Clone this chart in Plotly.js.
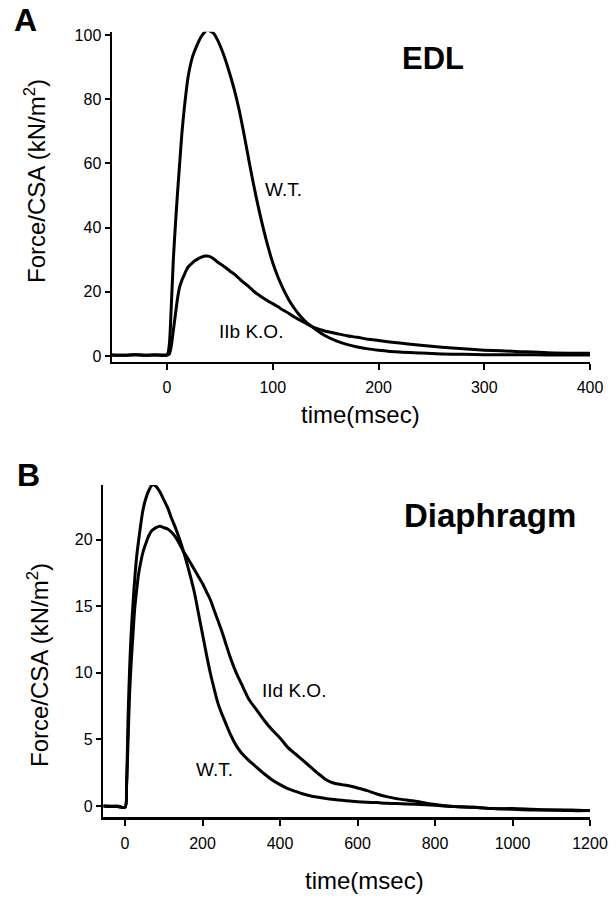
<!DOCTYPE html>
<html>
<head>
<meta charset="utf-8">
<script src="https://cdn.plot.ly/plotly-3.0.1.min.js"></script>
<style>html,body{margin:0;padding:0;background:#fff;}#chart{width:616px;height:899px;}</style>
</head>
<body>
<div id="chart"></div>
<script>
// ---- Panel A: EDL ----
var timeA = [-52,-40,-30,-20,-10,0,2,4,6,8,10,12,14,16,18,20,24,28,32,36,38,40,44,48,52,56,60,64,68,72,76,80,84,88,92,96,100,105,110,115,120,125,130,135,140,145,150,160,170,180,190,200,220,240,260,280,300,330,360,400];
var wtA = [0.3,0.2,0.4,0.2,0.3,0.3,3,15,30,41,51,60,69,76,82,87,93,96.5,99.3,101,101.5,101.3,100.5,98.3,95.2,91.5,87.2,82.5,77,70.5,63.5,56.5,50,44,38.5,33.5,29,24.5,20.8,17.6,15,12.8,11,9.6,8.4,7.2,6.2,4.7,3.6,2.8,2.2,1.8,1.2,0.9,0.6,0.5,0.4,0.4,0.3,0.3];
var koA = [0.3,0.2,0.4,0.2,0.3,0.3,0.5,3,8,13,18,21.5,23.5,25,26.5,27.7,29,30,30.7,31.1,31.1,31,30.3,29.2,28.3,27.4,26.3,25.4,24.2,23,22,20.8,19.6,18.7,17.8,17,16.3,15.3,14.2,13.3,12.2,11.3,10.4,9.5,8.7,8.2,7.7,7.0,6.3,5.8,5.2,4.8,4.0,3.3,2.7,2.2,1.8,1.4,1.0,0.8];
var ticksA_x = [0,100,200,300,400];
var ticksA_y = [0,20,40,60,80,100];

// ---- Panel B: Diaphragm ----
var timeB = [-56,-40,-20,0,4,8,12,16,20,25,30,35,40,45,50,55,60,65,70,75,80,90,100,110,120,130,140,150,160,170,180,190,200,210,220,230,240,250,260,270,280,290,300,320,340,360,380,400,420,440,460,480,500,520,540,560,580,600,625,650,675,700,750,800,850,900,950,1000,1050,1100,1150,1200];
var wtB = [0,-0.05,0,-0.1,1.7,6.7,10.4,13,14.9,17,18.7,19.9,21,22,22.7,23.2,23.6,23.9,24.1,24.1,24,23.6,23,22.4,21.6,20.9,20.1,19.2,18.2,17.1,15.9,14.4,12.9,11.4,10.0,8.8,7.7,6.9,6.2,5.5,4.9,4.4,4.0,3.4,2.9,2.4,1.95,1.6,1.3,1.1,0.9,0.75,0.65,0.55,0.48,0.42,0.37,0.32,0.28,0.25,0.2,0.18,0.12,0.05,-0.05,-0.1,-0.2,-0.25,-0.3,-0.3,-0.35,-0.35];
var koB = [0,0,-0.05,-0.1,1.5,5,8.5,10.8,12.6,14.8,16.2,17.4,18.2,18.9,19.4,19.8,20.2,20.5,20.7,20.8,20.9,21,20.9,20.8,20.55,20.2,19.7,19.15,18.7,18.2,17.7,17.2,16.7,16.1,15.5,14.7,13.9,13.1,12.2,11.3,10.5,9.8,9.2,8.0,7.2,6.4,5.7,5.1,4.4,3.9,3.4,2.9,2.4,1.95,1.7,1.6,1.5,1.35,1.15,0.9,0.7,0.55,0.35,0.1,-0.05,-0.1,-0.2,-0.2,-0.25,-0.3,-0.3,-0.35];
var ticksB_x = [0,200,400,600,800,1000,1200];
var ticksB_y = [0,5,10,15,20];

var FONT = 'Liberation Sans, Arial, Helvetica, sans-serif';
var W = 616, H = 899;
function px(x){return x / W;}
function py(y){return 1 - y / H;}

var lineStyle = {color:'#000', width:3, shape:'spline', smoothing:0.8};
var traces = [
  {x: timeA, y: wtA, xaxis:'x', yaxis:'y', mode:'lines', line: lineStyle, name:'W.T.'},
  {x: timeA, y: koA, xaxis:'x', yaxis:'y', mode:'lines', line: lineStyle, name:'IIb K.O.'},
  {x: timeB, y: wtB, xaxis:'x2', yaxis:'y2', mode:'lines', line: lineStyle, name:'W.T.'},
  {x: timeB, y: koB, xaxis:'x2', yaxis:'y2', mode:'lines', line: lineStyle, name:'IId K.O.'}
];

function axisBase(extra){
  var a = {
    showline:true, linecolor:'#000', linewidth:2.5,
    ticks:'outside', ticklen:6, tickwidth:2, tickcolor:'#000',
    showgrid:false, zeroline:false,
    tickfont:{family:FONT, size:16, color:'#000'},
    tickmode:'array'
  };
  for (var k in extra) a[k] = extra[k];
  return a;
}

function ann(text, x, y, size, extra){
  var a = {text:text, xref:'paper', yref:'paper', x:px(x), y:py(y), xanchor:'center', yanchor:'middle',
           showarrow:false, font:{family:FONT, size:size, color:'#000'}};
  for (var k in extra) a[k] = extra[k];
  return a;
}
function dataAnn(text, xr, yr, x, y){
  return {text:text, xref:xr, yref:yr, x:x, y:y, xanchor:'center', yanchor:'middle',
          showarrow:false, font:{family:FONT, size:19, color:'#000'}};
}

var layout = {
  width: W, height: H,
  margin:{l:0, r:0, t:0, b:0},
  paper_bgcolor:'#fff', plot_bgcolor:'#fff',
  showlegend:false,
  font:{family:FONT, color:'#000'},
  xaxis: axisBase({domain:[px(112), px(590)], range:[-52,400], anchor:'y', tickvals:ticksA_x, ticklabelstandoff:4}),
  yaxis: axisBase({domain:[py(361.7), py(31.7)], range:[-1.8,101], anchor:'x', tickvals:ticksA_y, ticklen:5}),
  xaxis2: axisBase({domain:[px(103.3), px(590)], range:[-56,1200], anchor:'y2', tickvals:ticksB_x, ticklabelstandoff:4}),
  yaxis2: axisBase({domain:[py(817), py(485)], range:[-0.83,24.1], anchor:'x2', tickvals:ticksB_y, ticklen:5}),
  annotations: [
    ann('<b>A</b>', 25, 20, 32),
    ann('<b>B</b>', 28, 475, 32),
    ann('<b>EDL</b>', 433, 59, 31),
    ann('<b>Diaphragm</b>', 490, 515, 33),
    ann('time(msec)', 360, 415, 24),
    ann('time(msec)', 364, 880, 24),
    ann('Force/CSA (kN/m<sup>2</sup>)', 35, 181, 24, {textangle:-90}),
    ann('Force/CSA (kN/m<sup>2</sup>)', 38, 665, 24, {textangle:-90}),
    dataAnn('W.T.', 'x', 'y', 110, 51.7),
    dataAnn('IIb K.O.', 'x', 'y', 79, 7.5),
    dataAnn('IId K.O.', 'x2', 'y2', 436, 8.7),
    dataAnn('W.T.', 'x2', 'y2', 232, 2.7)
  ]
};

Plotly.newPlot('chart', traces, layout, {staticPlot:true, displayModeBar:false});
</script>
</body>
</html>
